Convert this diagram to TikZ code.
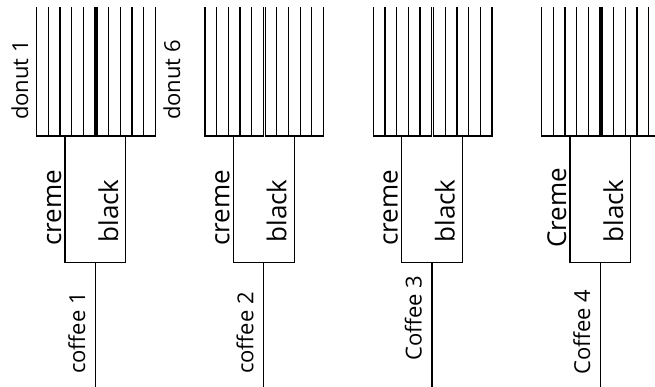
\documentclass[tikz,border=0pt]{standalone}
\usepackage{fontspec}
\setmainfont{Open Sans}
\begin{document}
\begin{tikzpicture}[x=1pt,y=-1pt,
  wire/.style={line width=1.2pt, line cap=rect},
  lbl/.style={rotate=90, anchor=base, inner sep=0pt, font=\fontsize{26}{26}\selectfont},
  lbls/.style={rotate=90, anchor=base, inner sep=0pt, font=\fontsize{22}{22}\selectfont}]
\useasboundingbox (0,0) rectangle (655,387);
\fill[white] (0,0) rectangle (655,387);
\clip (0,0) rectangle (655,387);
\foreach \g/\ox/\cr/\cf/\cy in {1/0/creme/coffee 1/333,2/168.3/creme/coffee 2/333,3/336.7/creme/Coffee 3/318,4/505/Creme/Coffee 4/332}{
  \begin{scope}[xshift=\ox pt]
    \foreach \i in {0,...,5}{
      \coordinate (g\g L\i t) at ({36.7+\i*11.67},8);
      \coordinate (g\g L\i b) at ({36.7+\i*11.67},136);
      \draw[wire] (g\g L\i t) -- (g\g L\i b);
      \coordinate (g\g R\i t) at ({96.9+\i*11.67},8);
      \coordinate (g\g R\i b) at ({96.9+\i*11.67},136);
      \draw[wire] (g\g R\i t) -- (g\g R\i b);
    }
    \draw[wire] (g\g L0b) -- (g\g L5b);
    \draw[wire] (g\g R0b) -- (g\g R5b);
    \coordinate (g\g bl) at (65.0,136);
    \coordinate (g\g br) at (125.8,136);
    \coordinate (g\g cl) at (65.0,262.5);
    \coordinate (g\g cr) at (125.8,262.5);
    \coordinate (g\g st) at (95.2,262.5);
    \coordinate (g\g sb) at (95.2,390);
    \draw[wire] (g\g bl) -- (g\g cl) -- (g\g cr) -- (g\g br);
    \draw[wire] (g\g st) -- (g\g sb);
    \node[lbl] (g\g creme) at (61,208) {\cr};
    \node[lbl] (g\g black) at (118,211) {black};
    \node[lbls] (g\g coffee) at (85,\cy) {\cf};
  \end{scope}
}
\node[lbls] (donut1) at (28,80) {donut 1};
\node[lbls] (donut6) at (180,80) {donut 6};
\end{tikzpicture}
\end{document}
